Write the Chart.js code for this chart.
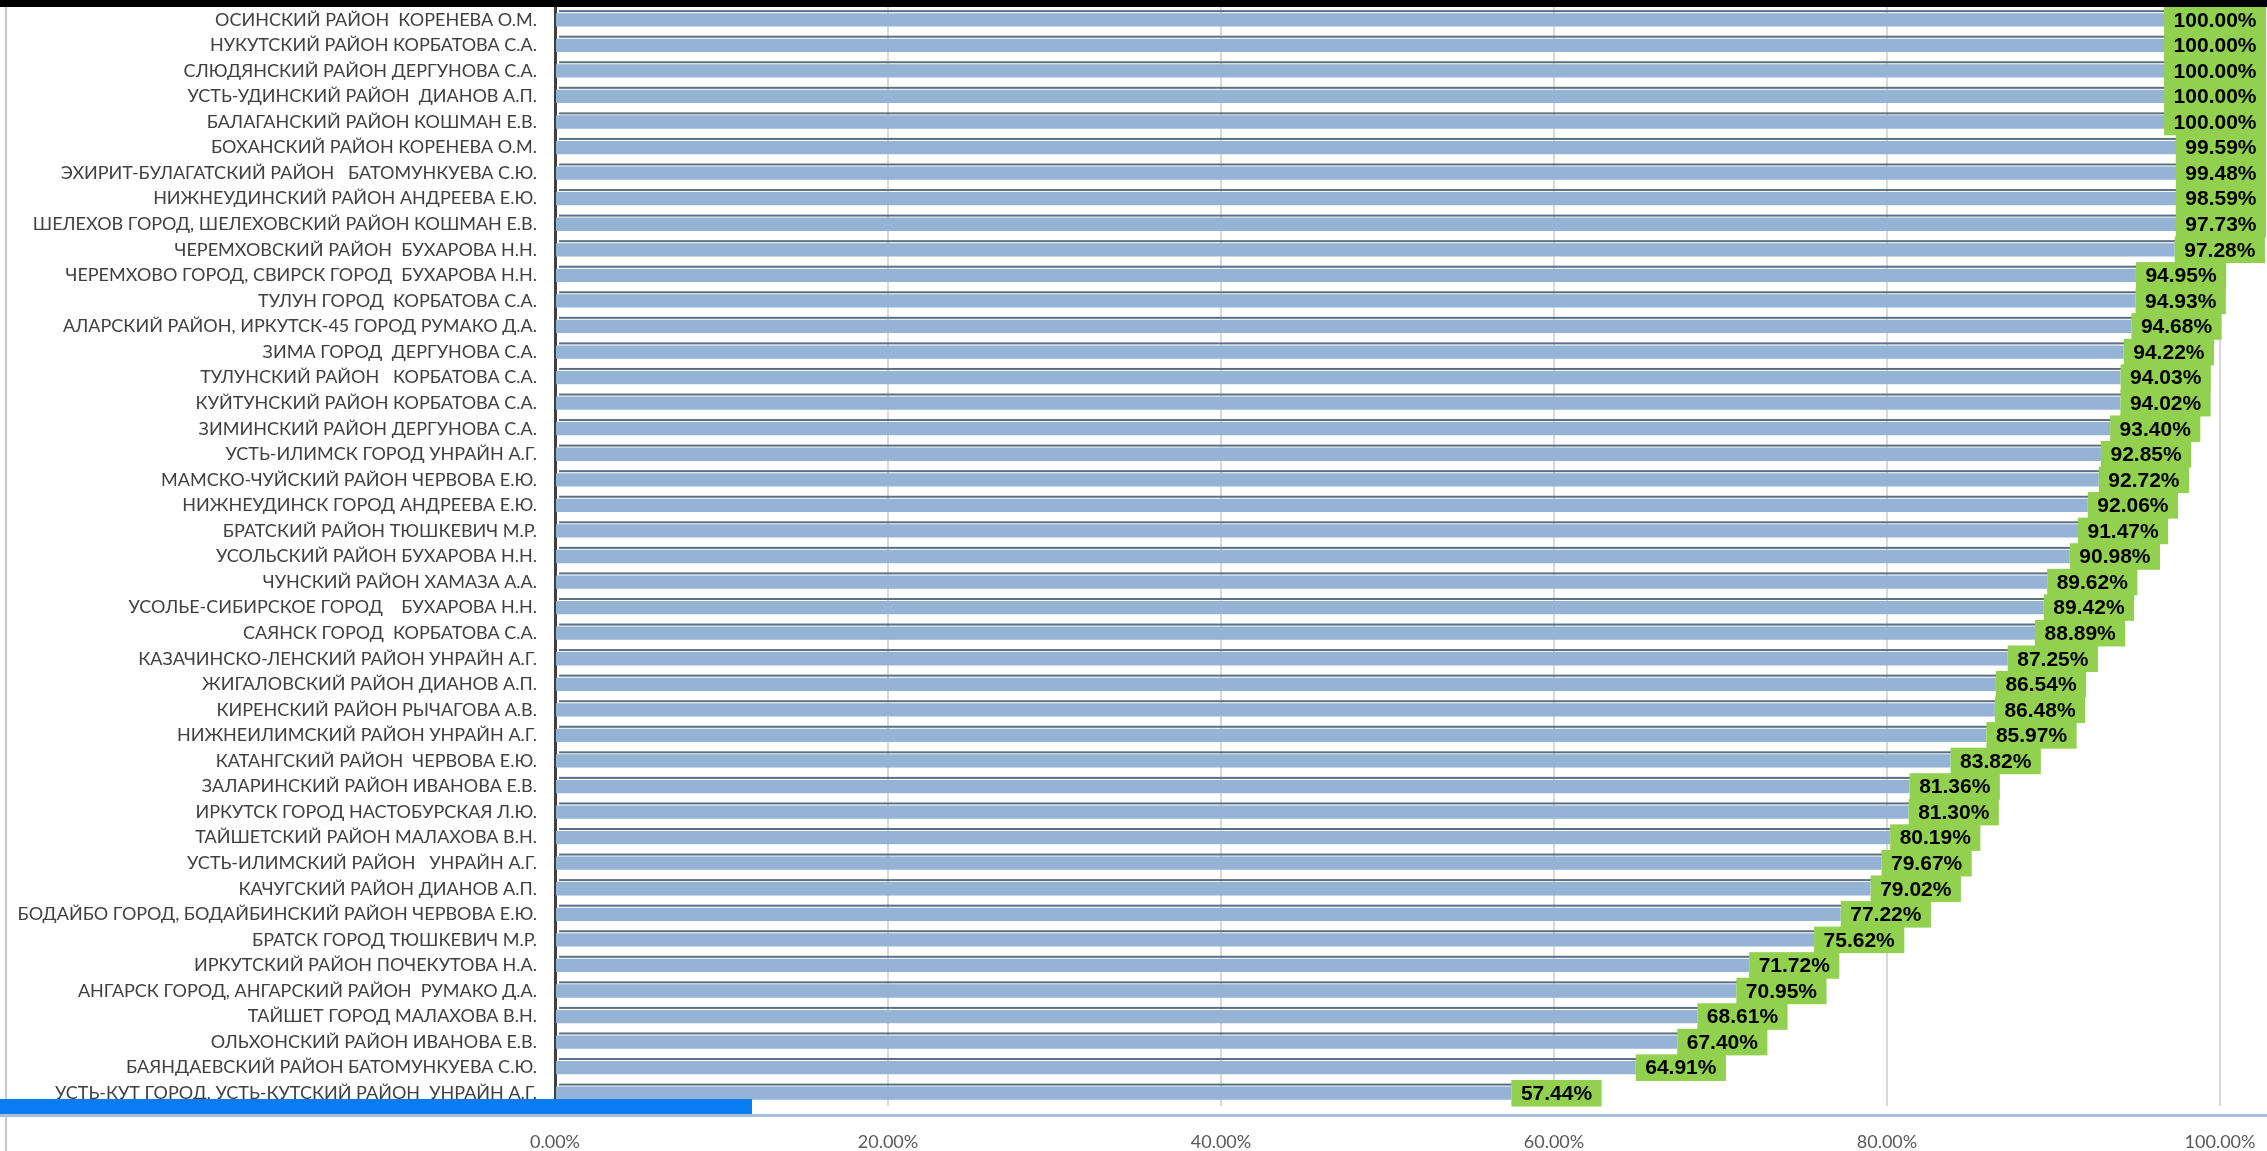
<!DOCTYPE html>
<html>
<head>
<meta charset="utf-8">
<script src="https://cdn.jsdelivr.net/npm/chart.js@4.4.1/dist/chart.umd.min.js"></script>
<style>
  html, body { margin: 0; padding: 0; background: #fff; }
  canvas { display: block; }
</style>
</head>
<body>
<canvas id="chart" width="2267" height="1151"></canvas>
<script>
// districts and supervisors, top to bottom
const districts = [
  "ОСИНСКИЙ РАЙОН  КОРЕНЕВА О.М.",
  "НУКУТСКИЙ РАЙОН КОРБАТОВА С.А.",
  "СЛЮДЯНСКИЙ РАЙОН ДЕРГУНОВА С.А.",
  "УСТЬ-УДИНСКИЙ РАЙОН  ДИАНОВ А.П.",
  "БАЛАГАНСКИЙ РАЙОН КОШМАН Е.В.",
  "БОХАНСКИЙ РАЙОН КОРЕНЕВА О.М.",
  "ЭХИРИТ-БУЛАГАТСКИЙ РАЙОН   БАТОМУНКУЕВА С.Ю.",
  "НИЖНЕУДИНСКИЙ РАЙОН АНДРЕЕВА Е.Ю.",
  "ШЕЛЕХОВ ГОРОД, ШЕЛЕХОВСКИЙ РАЙОН КОШМАН Е.В.",
  "ЧЕРЕМХОВСКИЙ РАЙОН  БУХАРОВА Н.Н.",
  "ЧЕРЕМХОВО ГОРОД, СВИРСК ГОРОД  БУХАРОВА Н.Н.",
  "ТУЛУН ГОРОД  КОРБАТОВА С.А.",
  "АЛАРСКИЙ РАЙОН, ИРКУТСК-45 ГОРОД РУМАКО Д.А.",
  "ЗИМА ГОРОД  ДЕРГУНОВА С.А.",
  "ТУЛУНСКИЙ РАЙОН   КОРБАТОВА С.А.",
  "КУЙТУНСКИЙ РАЙОН КОРБАТОВА С.А.",
  "ЗИМИНСКИЙ РАЙОН ДЕРГУНОВА С.А.",
  "УСТЬ-ИЛИМСК ГОРОД УНРАЙН А.Г.",
  "МАМСКО-ЧУЙСКИЙ РАЙОН ЧЕРВОВА Е.Ю.",
  "НИЖНЕУДИНСК ГОРОД АНДРЕЕВА Е.Ю.",
  "БРАТСКИЙ РАЙОН ТЮШКЕВИЧ М.Р.",
  "УСОЛЬСКИЙ РАЙОН БУХАРОВА Н.Н.",
  "ЧУНСКИЙ РАЙОН ХАМАЗА А.А.",
  "УСОЛЬЕ-СИБИРСКОЕ ГОРОД    БУХАРОВА Н.Н.",
  "САЯНСК ГОРОД  КОРБАТОВА С.А.",
  "КАЗАЧИНСКО-ЛЕНСКИЙ РАЙОН УНРАЙН А.Г.",
  "ЖИГАЛОВСКИЙ РАЙОН ДИАНОВ А.П.",
  "КИРЕНСКИЙ РАЙОН РЫЧАГОВА А.В.",
  "НИЖНЕИЛИМСКИЙ РАЙОН УНРАЙН А.Г.",
  "КАТАНГСКИЙ РАЙОН  ЧЕРВОВА Е.Ю.",
  "ЗАЛАРИНСКИЙ РАЙОН ИВАНОВА Е.В.",
  "ИРКУТСК ГОРОД НАСТОБУРСКАЯ Л.Ю.",
  "ТАЙШЕТСКИЙ РАЙОН МАЛАХОВА В.Н.",
  "УСТЬ-ИЛИМСКИЙ РАЙОН   УНРАЙН А.Г.",
  "КАЧУГСКИЙ РАЙОН ДИАНОВ А.П.",
  "БОДАЙБО ГОРОД, БОДАЙБИНСКИЙ РАЙОН ЧЕРВОВА Е.Ю.",
  "БРАТСК ГОРОД ТЮШКЕВИЧ М.Р.",
  "ИРКУТСКИЙ РАЙОН ПОЧЕКУТОВА Н.А.",
  "АНГАРСК ГОРОД, АНГАРСКИЙ РАЙОН  РУМАКО Д.А.",
  "ТАЙШЕТ ГОРОД МАЛАХОВА В.Н.",
  "ОЛЬХОНСКИЙ РАЙОН ИВАНОВА Е.В.",
  "БАЯНДАЕВСКИЙ РАЙОН БАТОМУНКУЕВА С.Ю.",
  "УСТЬ-КУТ ГОРОД, УСТЬ-КУТСКИЙ РАЙОН  УНРАЙН А.Г."
];

// percentage per district
const percents = [
  100.00, 100.00, 100.00, 100.00, 100.00, 99.59, 99.48, 98.59, 97.73, 97.28,
  94.95, 94.93, 94.68, 94.22, 94.03, 94.02, 93.40, 92.85, 92.72, 92.06,
  91.47, 90.98, 89.62, 89.42, 88.89, 87.25, 86.54, 86.48, 85.97, 83.82,
  81.36, 81.30, 80.19, 79.67, 79.02, 77.22, 75.62, 71.72, 70.95, 68.61,
  67.40, 64.91, 57.44
];

// x axis ticks
const xTicks = [0, 20, 40, 60, 80, 100];

// screenshot frame bits: black strip on top, blue strip bottom-left, floor line
const framePlugin = {
  id: "frame",
  beforeDraw(chart) {
    const ctx = chart.ctx;
    ctx.save();
    ctx.fillStyle = "#fff";
    ctx.fillRect(0, 0, chart.width, chart.height);
    ctx.restore();
  },
  afterDraw(chart) {
    const ctx = chart.ctx;
    const bottom = chart.chartArea.bottom;
    ctx.save();
    ctx.fillStyle = "#000";
    ctx.fillRect(0, 0, chart.width, 7);
    ctx.fillStyle = "#c8c8c8";
    ctx.fillRect(5, 7, 2, chart.height - 7);
    ctx.fillStyle = "#a6bfda";
    ctx.fillRect(0, bottom + 8, chart.width, 3);
    ctx.fillStyle = "#0a7cf2";
    ctx.fillRect(0, bottom - 7, 752, 15);
    ctx.restore();
  }
};

// dark top edge of each bar (3D look) + green value boxes
const barDecor = {
  id: "barDecor",
  afterDatasetsDraw(chart) {
    const ctx = chart.ctx;
    const meta = chart.getDatasetMeta(0);
    const step = chart.scales.y.height / districts.length;
    ctx.save();
    // top edges
    meta.data.forEach((bar) => {
      const top = bar.y - bar.height / 2;
      ctx.fillStyle = "#5d6f82";
      ctx.fillRect(bar.base + 3, top - 3, bar.x - bar.base, 2);
    });
    // value boxes
    ctx.font = "bold 21px 'Liberation Sans', Arial, sans-serif";
    ctx.textBaseline = "middle";
    ctx.textAlign = "left";
    meta.data.forEach((bar, i) => {
      const txt = percents[i].toFixed(2) + "%";
      const w = ctx.measureText(txt).width + 19;
      const h = step + 1;
      let left = bar.x;
      if (left + w > chart.width - 1) left = chart.width - 1 - w;
      ctx.fillStyle = "#92d050";
      ctx.fillRect(left, bar.y - h / 2, w, h);
      ctx.fillStyle = "#000";
      ctx.fillText(txt, left + 9.5, bar.y + 1);
    });
    ctx.restore();
  }
};

const ctx = document.getElementById("chart").getContext("2d");

new Chart(ctx, {
  type: "bar",
  data: {
    labels: districts,
    datasets: [
      {
        data: percents,
        backgroundColor: "#95b3d4",
        borderWidth: 0,
        barPercentage: 0.52,
        categoryPercentage: 1.0,
      },
    ],
  },
  options: {
    indexAxis: "y",
    responsive: false,
    animation: false,
    devicePixelRatio: 1,
    layout: {
      padding: { top: 7, right: 47, left: 0, bottom: 0 },
    },
    plugins: {
      legend: { display: false },
      tooltip: { enabled: false },
    },
    scales: {
      x: {
        min: 0,
        max: 100,
        afterBuildTicks: (scale) => {
          scale.ticks = xTicks.map((v) => ({ value: v }));
        },
        afterFit: (scale) => {
          scale.height = 45;
          scale.paddingLeft = 0;
          scale.paddingRight = 0;
        },
        ticks: {
          callback: (v) => Number(v).toFixed(2) + "%",
          color: "#595959",
          font: { family: "Lato", size: 18 },
          padding: 25,
        },
        grid: { color: "#d9d9d9", lineWidth: 2, drawTicks: false },
        border: { display: false },
      },
      y: {
        afterFit: (scale) => {
          scale.width = 555;
          scale.paddingTop = 0;
          scale.paddingBottom = 0;
        },
        ticks: {
          autoSkip: false,
          color: "#404040",
          font: { family: "Lato", size: 18 },
          padding: 18,
        },
        grid: { display: false, drawTicks: false },
        border: { color: "#404040", width: 3 },
      },
    },
  },
  plugins: [framePlugin, barDecor],
});
</script>
</body>
</html>
